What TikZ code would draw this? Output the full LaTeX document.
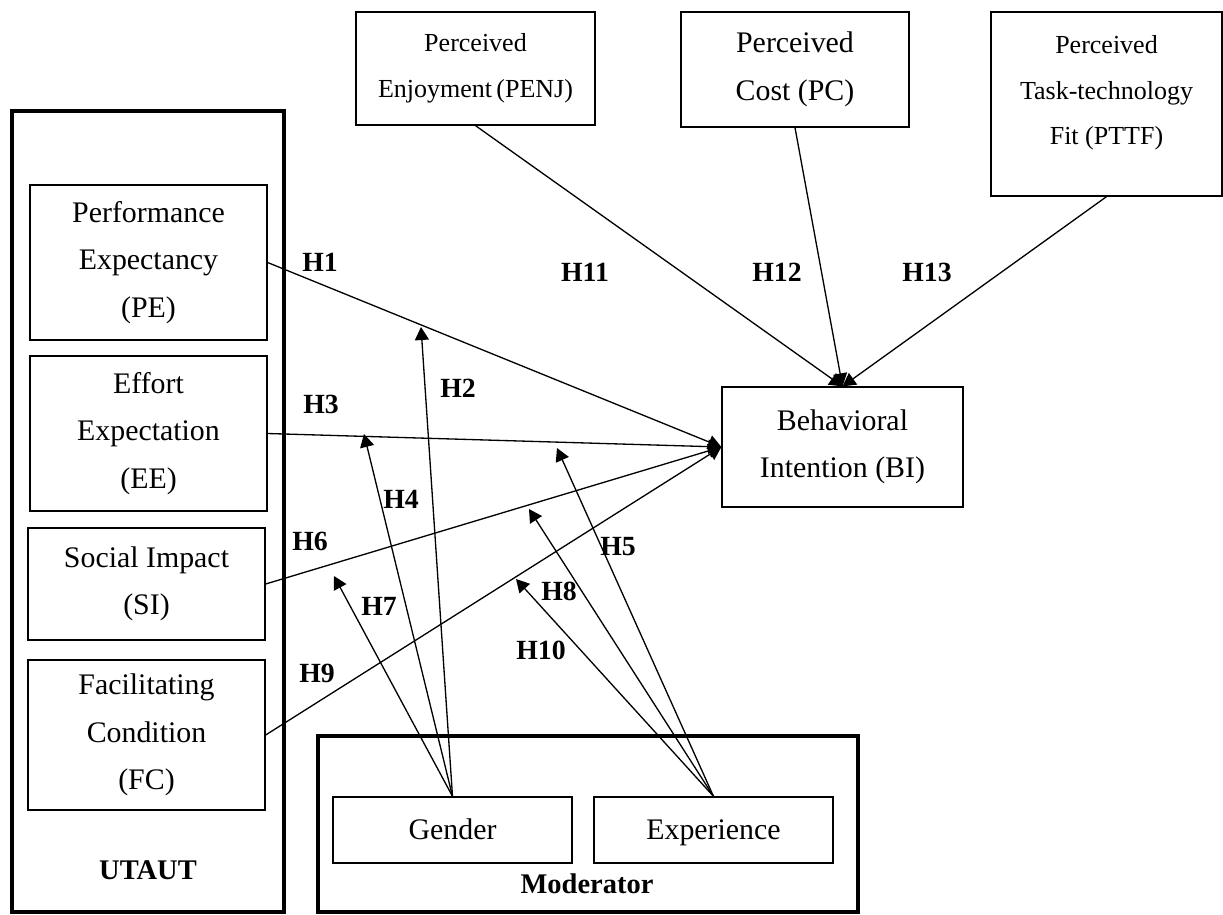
\documentclass[tikz,border=0pt]{standalone}
\usepackage{fontspec}
\setmainfont{Liberation Serif}
\usetikzlibrary{arrows.meta}

\newcommand{\bigsize}{\fontsize{17}{27}\selectfont}
\newcommand{\smallsize}{\fontsize{14.8}{26}\selectfont}
\newcommand{\hypsize}{\fontsize{15.8}{18}\selectfont\bfseries}

\tikzset{
  construct/.style={draw, line width=0.75pt, align=center, inner sep=0pt, font=\bigsize},
  frame/.style={draw, line width=2.4pt, inner sep=0pt},
  hyp/.style={font=\hypsize, inner sep=0pt},
  path arrow/.style={line width=0.75pt, -{Triangle[length=7.4pt,width=8pt]}}
}

\begin{document}
\begin{tikzpicture}[x=0.02cm,y=-0.02cm]
        \useasboundingbox (0,0) rectangle (1223,914);

        % frames
        \node[frame, minimum width=5.44cm, minimum height=16.02cm] (UTAUT) at (148,511.5) {};
        \node[frame, minimum width=10.8cm, minimum height=3.52cm]  (MOD)   at (588,824)   {};
        \node[font=\fontsize{16.2}{18}\selectfont\bfseries] (UTAUTlab) at (148,870) {UTAUT};
        \node[font=\fontsize{16.2}{18}\selectfont\bfseries] (MODlab)   at (587,884) {Moderator};

        % UTAUT constructs
        \node[construct, minimum width=4.74cm, minimum height=3.10cm] (PE) at (148.5,262.5) {Performance\\Expectancy\\(PE)};
        \node[construct, minimum width=4.74cm, minimum height=3.10cm] (EE) at (148.5,433.5) {Effort\\Expectation\\(EE)};
        \node[construct, minimum width=4.74cm, minimum height=2.24cm] (SI) at (146.5,584)   {Social Impact\\(SI)};
        \node[construct, minimum width=4.74cm, minimum height=3.00cm] (FC) at (146.5,735)   {Facilitating\\Condition\\(FC)};

        % added constructs
        \node[construct, font=\smallsize, minimum width=4.78cm, minimum height=2.26cm] (PENJ) at (475.5,68.5) {Perceived\\Enjoyment\,(PENJ)};
        \node[construct, minimum width=4.56cm, minimum height=2.30cm] (PC) at (795,69.5) {Perceived\\Cost (PC)};
        \node[construct, font=\smallsize, text depth=0.56cm, minimum width=4.62cm, minimum height=3.68cm] (PTTF) at (1106.5,104) {Perceived\\Task-technology\\Fit (PTTF)};

        \node[construct, minimum width=4.82cm, minimum height=2.40cm] (BI) at (842.5,447) {Behavioral\\Intention (BI)};

        % moderators
        \node[construct, minimum width=4.78cm, minimum height=1.32cm] (GEN) at (452.5,830) {Gender\strut};
        \node[construct, minimum width=4.78cm, minimum height=1.32cm] (EXP) at (713.5,830) {Experience\strut};

        % points where moderators meet the paths
        \coordinate (m2)  at (421,327);
        \coordinate (m4)  at (364,434);
        \coordinate (m7)  at (334,576);
        \coordinate (m5)  at (557,448);
        \coordinate (m8)  at (529,509);
        \coordinate (m10) at (516,579);

        \path[path arrow] (PE.east)    edge (BI.west)
                          (EE.east)    edge (BI.west)
                          (SI.east)    edge (BI.west)
                          (FC.east)    edge (BI.west)
                          (PENJ.south) edge (BI.north)
                          (PC.south)   edge (BI.north)
                          (PTTF.south) edge (BI.north);

        \path[path arrow] (GEN.north) edge (m2)
                          (GEN.north) edge (m4)
                          (GEN.north) edge (m7)
                          (EXP.north) edge (m5)
                          (EXP.north) edge (m8)
                          (EXP.north) edge (m10);

        % hypothesis labels
        \node[hyp] (H1)  at (320,262) {H1};
        \node[hyp] (H2)  at (458,388) {H2};
        \node[hyp] (H3)  at (321,404) {H3};
        \node[hyp] (H4)  at (401,499) {H4};
        \node[hyp] (H5)  at (618,547) {H5};
        \node[hyp] (H6)  at (310,541) {H6};
        \node[hyp] (H7)  at (379,606) {H7};
        \node[hyp] (H8)  at (559,591) {H8};
        \node[hyp] (H9)  at (317,673) {H9};
        \node[hyp] (H10) at (541,650) {H10};
        \node[hyp] (H11) at (585,272) {H11};
        \node[hyp] (H12) at (777,272) {H12};
        \node[hyp] (H13) at (927,272) {H13};
\end{tikzpicture}
\end{document}
